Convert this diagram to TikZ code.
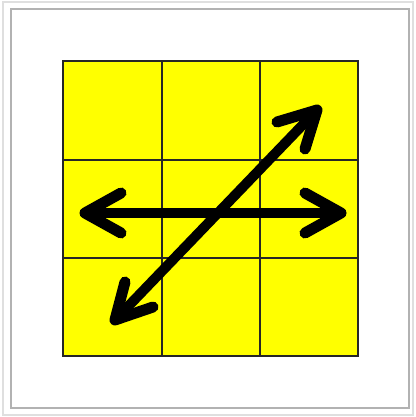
\documentclass[tikz,border=0pt]{standalone}
\definecolor{puryellow}{RGB}{255,255,0}
\begin{document}
\begin{tikzpicture}[x=1pt,y=-1pt,
  gridline/.style={line width=1.5pt,draw=black!85},
  arrowline/.style={line width=10pt,draw=black,line cap=round,line join=round}]
\useasboundingbox (0,0) rectangle (415,417);
\fill[white] (0,0) rectangle (415,417);
\draw[gray!25,line width=1.2pt] (3,2) rectangle (413,415);
\draw[gray!60,line width=2pt] (11,9) rectangle (409,408);
% grid
\fill[puryellow] (63,61) rectangle (358,356);
\draw[gridline] (162,61) -- (162,356);
\draw[gridline] (260,61) -- (260,356);
\draw[gridline] (63,160) -- (358,160);
\draw[gridline] (63,258) -- (358,258);
\draw[line width=2pt,draw=black!85] (63,61) rectangle (358,356);
% horizontal arrow
\coordinate (hl) at (85,213);
\coordinate (hr) at (341,213);
\coordinate (hla) at (121,193);
\coordinate (hlb) at (121,233);
\coordinate (hra) at (305,193);
\coordinate (hrb) at (305,233);
\draw[arrowline] (hl) -- (hr);
\draw[arrowline,line width=11pt] (hla) -- (hl) -- (hlb);
\draw[arrowline,line width=11pt] (hra) -- (hr) -- (hrb);
% diagonal arrow
\coordinate (dt) at (317,110);
\coordinate (db) at (115,320);
\coordinate (dta) at (305,149);
\coordinate (dtb) at (277,122);
\coordinate (dba) at (153,307);
\coordinate (dbb) at (125,282);
\draw[arrowline] (db) -- (dt);
\draw[arrowline,line width=11pt] (dta) -- (dt) -- (dtb);
\draw[arrowline,line width=11pt] (dba) -- (db) -- (dbb);
\end{tikzpicture}
\end{document}
